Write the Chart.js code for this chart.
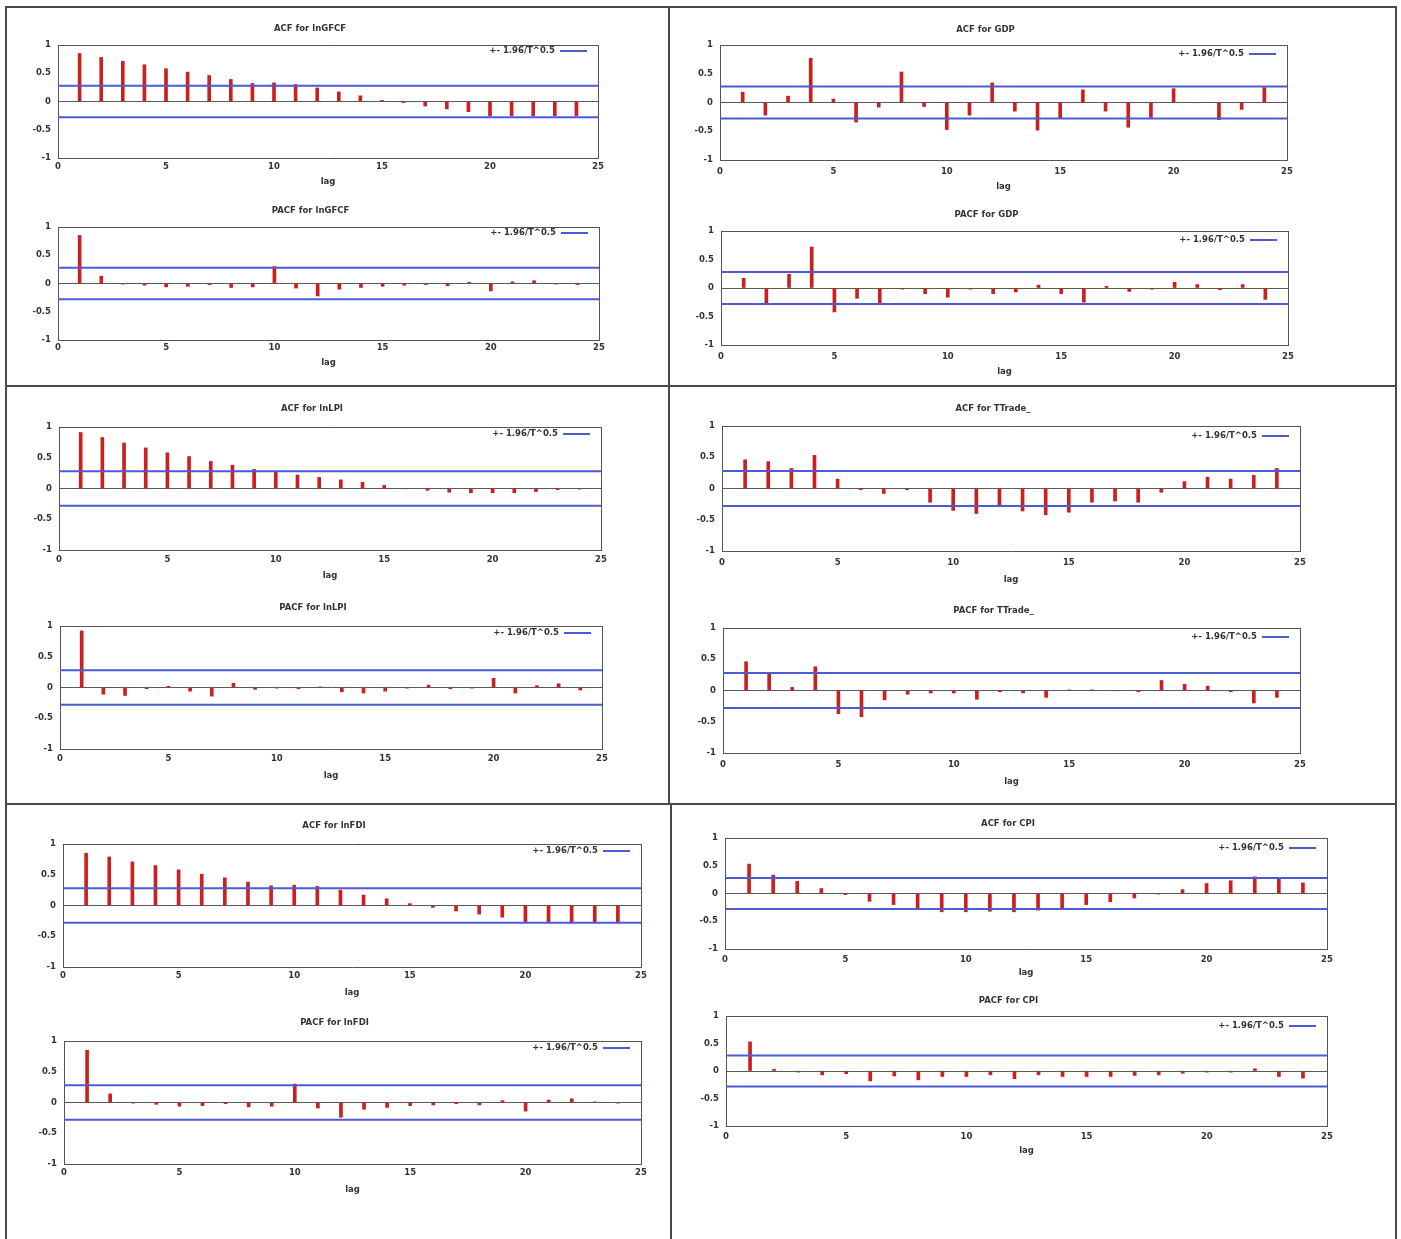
<!DOCTYPE html>
<html><head><meta charset="utf-8">
<script src="https://cdn.jsdelivr.net/npm/chart.js@4.4.1/dist/chart.umd.min.js"></script>
<style>
html,body{margin:0;padding:0;background:#fff;}
#page{position:relative;width:1401px;height:1239px;overflow:hidden;background:#fff;}
.frame{position:absolute;border:2px solid #4a4a4a;box-sizing:border-box;}
.sub{position:absolute;}
</style></head><body><div id="page"></div>
<script>
// ---------- data ----------
const lags = [1,2,3,4,5,6,7,8,9,10,11,12,13,14,15,16,17,18,19,20,21,22,23,24];
const xTicks = [0,5,10,15,20,25];
const yTicks = [-1,-0.5,0,0.5,1];
const bandLevel = 0.28;
const legendLabel = '+- 1.96/T^0.5';
const xTitle = 'lag';

const acfLnGFCF  = [0.85,0.78,0.71,0.65,0.58,0.52,0.46,0.39,0.32,0.33,0.30,0.24,0.17,0.10,0.02,-0.02,-0.08,-0.13,-0.18,-0.25,-0.25,-0.25,-0.25,-0.25];
const pacfLnGFCF = [0.85,0.13,-0.01,-0.03,-0.06,-0.05,-0.02,-0.07,-0.06,0.30,-0.08,-0.22,-0.10,-0.07,-0.05,-0.03,-0.02,-0.04,0.02,-0.13,0.03,0.05,-0.01,-0.02];
const acfGDP     = [0.18,-0.22,0.11,0.77,0.06,-0.34,-0.08,0.53,-0.07,-0.47,-0.22,0.34,-0.15,-0.48,-0.28,0.22,-0.15,-0.43,-0.26,0.24,0.00,-0.30,-0.12,0.26];
const pacfGDP    = [0.17,-0.28,0.24,0.72,-0.42,-0.18,-0.28,-0.02,-0.10,-0.16,-0.02,-0.10,-0.07,0.05,-0.10,-0.25,0.03,-0.06,-0.02,0.10,0.06,-0.03,0.06,-0.20];
const acfLnLPI   = [0.91,0.83,0.74,0.66,0.58,0.52,0.44,0.38,0.31,0.27,0.22,0.18,0.14,0.10,0.05,0.00,-0.03,-0.06,-0.07,-0.07,-0.07,-0.05,-0.02,-0.01];
const pacfLnLPI  = [0.92,-0.11,-0.13,-0.02,0.02,-0.06,-0.14,0.07,-0.03,-0.01,-0.02,0.01,-0.07,-0.09,-0.06,-0.01,0.04,-0.02,-0.01,0.15,-0.09,0.03,0.06,-0.04];
const acfTTrade  = [0.46,0.43,0.32,0.53,0.15,-0.02,-0.08,-0.02,-0.22,-0.35,-0.40,-0.28,-0.36,-0.42,-0.38,-0.22,-0.20,-0.22,-0.06,0.11,0.18,0.15,0.21,0.32];
const pacfTTrade = [0.46,0.27,0.05,0.38,-0.37,-0.42,-0.15,-0.06,-0.04,-0.04,-0.14,-0.02,-0.04,-0.11,0.01,0.01,0.00,-0.02,0.16,0.10,0.07,-0.02,-0.20,-0.11];
const acfLnFDI   = [0.85,0.79,0.71,0.65,0.58,0.51,0.45,0.38,0.32,0.33,0.31,0.25,0.17,0.11,0.03,-0.03,-0.09,-0.14,-0.19,-0.27,-0.27,-0.27,-0.27,-0.27];
const pacfLnFDI  = [0.85,0.14,-0.01,-0.03,-0.06,-0.05,-0.02,-0.07,-0.06,0.30,-0.09,-0.24,-0.11,-0.08,-0.05,-0.04,-0.02,-0.04,0.03,-0.14,0.04,0.06,0.01,-0.01];
const acfCPI     = [0.53,0.33,0.22,0.09,-0.02,-0.14,-0.20,-0.28,-0.33,-0.33,-0.32,-0.33,-0.30,-0.27,-0.20,-0.15,-0.08,-0.01,0.07,0.18,0.23,0.30,0.27,0.19];
const pacfCPI    = [0.53,0.03,-0.02,-0.07,-0.05,-0.18,-0.09,-0.16,-0.10,-0.10,-0.07,-0.14,-0.07,-0.10,-0.10,-0.10,-0.08,-0.07,-0.04,-0.02,-0.02,0.04,-0.10,-0.13];

const titles = ['ACF for lnGFCF','PACF for lnGFCF','ACF for GDP','PACF for GDP',
                'ACF for lnLPI','PACF for lnLPI','ACF for TTrade_','PACF for TTrade_',
                'ACF for lnFDI','PACF for lnFDI','ACF for CPI','PACF for CPI'];
const series = [acfLnGFCF,pacfLnGFCF,acfGDP,pacfGDP,acfLnLPI,pacfLnLPI,acfTTrade,pacfTTrade,acfLnFDI,pacfLnFDI,acfCPI,pacfCPI];

// ---------- layout (pixels) ----------
// L,T,R,B = plot area; ty = title centre, xy = x tick label centre, ly = "lag" centre, gy = legend row offset
const geo = [
  {L:58, T:45,  R:598, B:158, ty:29,  xy:167, ly:182, gy:6},
  {L:58, T:227, R:599, B:340, ty:211, xy:348, ly:363, gy:6},
  {L:720,T:45,  R:1287,B:160, ty:30,  xy:172, ly:187, gy:9},
  {L:721,T:231, R:1288,B:345, ty:215, xy:357, ly:372, gy:9},
  {L:59, T:427, R:601, B:550, ty:409, xy:560, ly:576, gy:7},
  {L:60, T:626, R:602, B:749, ty:608, xy:759, ly:776, gy:7},
  {L:722,T:426, R:1300,B:551, ty:409, xy:563, ly:580, gy:10},
  {L:723,T:628, R:1300,B:753, ty:611, xy:765, ly:782, gy:9},
  {L:63, T:844, R:641, B:967, ty:826, xy:976, ly:993, gy:7},
  {L:64, T:1041,R:641, B:1164,ty:1023,xy:1173,ly:1190,gy:7},
  {L:725,T:838, R:1327,B:949, ty:824, xy:960, ly:973, gy:10},
  {L:726,T:1016,R:1327,B:1126,ty:1001,xy:1137,ly:1151,gy:10}
];
const frames = [
  {x:5,y:6,w:665,h:381},{x:668,y:6,w:729,h:381},
  {x:5,y:385,w:665,h:420},{x:668,y:385,w:729,h:420},
  {x:5,y:803,w:667,h:450},{x:670,y:803,w:727,h:450}
];

const FONT = 'DejaVu Sans';
const FS = 8.5;
const TXT = '#333';
const RED = '#cc1f1f';
const BLUE = '#4d5ad2';
const AXIS = '#555';
const ZERO = '#5a5a5a';

const page = document.getElementById('page');
frames.forEach(f => {
  const d = document.createElement('div');
  d.className = 'frame';
  Object.assign(d.style, {left:f.x+'px', top:f.y+'px', width:f.w+'px', height:f.h+'px'});
  page.appendChild(d);
});

// legend drawn inside the plot area, top-right, text left of the line sample (gnuplot style)
const bandLegend = {
  id: 'bandLegend',
  afterDatasetsDraw(chart, args, opts) {
    const ds = chart.data.datasets.find(d => d.label === legendLabel);
    if (!ds) return;
    const {ctx, chartArea: a} = chart;
    const y = a.top + opts.dy;
    const x2 = a.right - opts.right, x1 = x2 - opts.lineLen;
    ctx.save();
    ctx.strokeStyle = ds.borderColor; ctx.lineWidth = ds.borderWidth;
    ctx.beginPath(); ctx.moveTo(x1, y); ctx.lineTo(x2, y); ctx.stroke();
    ctx.fillStyle = TXT; ctx.font = 'bold ' + FS + 'px "' + FONT + '"';
    ctx.textAlign = 'right'; ctx.textBaseline = 'middle';
    ctx.fillText(ds.label, x1 - 5, y);
    ctx.restore();
  }
};

function makeChart(title, values, g) {
  const padL = 50, padR = 14, titleH = 30, axisH = 36;
  const w = g.R - g.L + padL + padR;
  const h = g.B - g.T + titleH + axisH;
  const div = document.createElement('div');
  div.className = 'sub';
  Object.assign(div.style, {left:(g.L-padL)+'px', top:(g.T-titleH)+'px', width:w+'px', height:h+'px'});
  const cv = document.createElement('canvas');
  cv.width = w; cv.height = h; cv.style.width = w+'px'; cv.style.height = h+'px';
  div.appendChild(cv); page.appendChild(div);

  const tPadTop = titleH - (g.T - g.ty) - FS / 2;
  const tPadBot = titleH - FS - tPadTop;
  const labelPad = g.xy - g.B - FS * 0.6;
  const lagPadBot = axisH - (g.ly - g.B) - FS * 0.6;
  const xMin = xTicks[0], xMax = xTicks[xTicks.length-1];
  const small = {family: FONT, size: FS, weight: 'bold'};

  new Chart(cv, {
    type: 'bar',
    plugins: [bandLegend],
    data: {
      datasets: [
        {type:'line', label: legendLabel, data:[{x:xMin,y:bandLevel},{x:xMax,y:bandLevel}],
         borderColor: BLUE, borderWidth: 2, pointRadius: 0, order: 0},
        {type:'line', label: 'lower', data:[{x:xMin,y:-bandLevel},{x:xMax,y:-bandLevel}],
         borderColor: BLUE, borderWidth: 2, pointRadius: 0, order: 1},
        {type:'bar', label: title, data: lags.map((l,i)=>({x:l, y:values[i]})),
         backgroundColor: RED, borderWidth: 0, barThickness: 3, order: 2}
      ]
    },
    options: {
      responsive: false, animation: false, devicePixelRatio: 1,
      layout: {padding: 0},
      plugins: {
        title: {display: true, text: title, color: TXT, font: {family: FONT, size: FS, lineHeight: 1, weight: 'bold'},
                padding: {top: tPadTop, bottom: tPadBot}},
        legend: {display: false},
        bandLegend: {dy: g.gy, right: 11, lineLen: 27},
        tooltip: {enabled: false}
      },
      scales: {
        x: {type: 'linear', position: 'bottom', min: xMin, max: xMax, offset: false,
            afterBuildTicks: s => { s.ticks = xTicks.map(v => ({value: v})); },
            afterFit: s => { s.height = axisH; },
            grid: {display: false, drawTicks: false, offset: false},
            border: {display: true, color: AXIS, width: 1},
            ticks: {padding: labelPad, color: TXT, font: small, maxRotation: 0, autoSkip: false},
            title: {display: true, text: xTitle, color: TXT, font: {family: FONT, size: FS, lineHeight: 1.2, weight: 'bold'},
                    padding: {top: 0, bottom: lagPadBot}}},
        x2: {type: 'linear', position: 'top', min: xMin, max: xMax, offset: false,
             afterFit: s => { s.height = 0; },
             grid: {display: false, drawTicks: false}, ticks: {display: false},
             border: {display: true, color: AXIS, width: 1}},
        y: {type: 'linear', position: 'left', min: yTicks[0], max: yTicks[yTicks.length-1],
            afterBuildTicks: s => { s.ticks = yTicks.map(v => ({value: v})); },
            afterFit: s => { s.width = padL; },
            grid: {display: true, drawTicks: false,
                   color: c => (c.tick && c.tick.value === 0) ? ZERO : 'rgba(0,0,0,0)', lineWidth: 1},
            border: {display: true, color: AXIS, width: 1},
            ticks: {padding: 7, color: TXT, font: small, callback: v => String(v)}},
        y2: {type: 'linear', position: 'right', min: yTicks[0], max: yTicks[yTicks.length-1],
             afterFit: s => { s.width = padR; },
             grid: {display: false, drawTicks: false}, ticks: {display: false},
             border: {display: true, color: AXIS, width: 1}}
      }
    }
  });
}

titles.forEach((t, i) => makeChart(t, series[i], geo[i]));
</script>
</body></html>
